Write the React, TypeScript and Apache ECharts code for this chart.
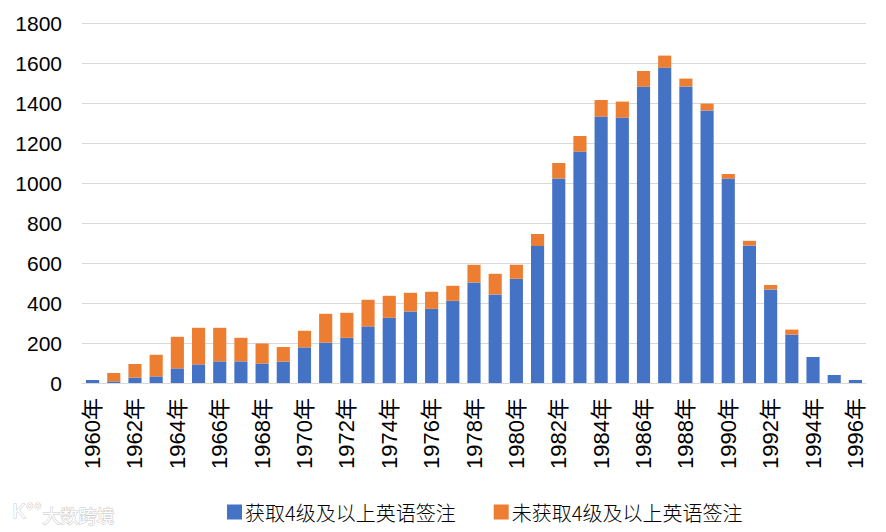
import React, { useEffect, useRef } from "react";
import * as echarts from "echarts";

const years: string[] = [];
for (let y = 1960; y <= 1996; y++) years.push(y + "年");

const seriesNames = ["获取4级及以上英语签注", "未获取4级及以上英语签注"];

const withEnglish = [
  15, 8, 27, 33, 73, 93, 108, 108, 98, 107,
  178, 202, 226, 283, 326, 358, 371, 411, 503, 443,
  521, 685, 1023, 1157, 1332, 1327, 1482, 1577, 1483, 1363,
  1022, 688, 468, 242, 130, 40, 15,
];

const withoutEnglish = [
  0, 42, 68, 108, 158, 183, 168, 118, 100, 73,
  83, 144, 125, 133, 110, 93, 85, 75, 88, 103,
  70, 60, 77, 78, 83, 80, 78, 60, 39, 34,
  23, 23, 22, 25, 0, 0, 0,
];

const yTicks = { min: 0, max: 1800, interval: 200 };

export default function App() {
  const ref = useRef<HTMLDivElement>(null);
  useEffect(() => {
    if (!ref.current) return;
    const chart = echarts.init(ref.current, null, { renderer: "svg" });
    const font = "Arial, 'Liberation Sans', 'Noto Sans CJK SC', sans-serif";
    chart.setOption({
      animation: false,
      backgroundColor: "#ffffff",
      textStyle: { fontFamily: font },
      grid: { left: 82, right: 20, top: 23, bottom: 149, containLabel: false },
      legend: {
        top: 497,
        left: 222,
        itemWidth: 15,
        itemHeight: 15,
        itemGap: 38,
        icon: "rect",
        textStyle: {
          fontSize: 20,
          color: "#000",
          fontFamily: "'Noto Sans CJK SC', sans-serif",
          fontWeight: 300,
          padding: [0, 0, 0, -2],
        },
        data: seriesNames,
      },
      xAxis: {
        type: "category",
        data: years,
        axisLine: { lineStyle: { color: "#d9d9d9", width: 1 } },
        axisTick: { show: false },
        axisLabel: {
          interval: 1,
          rotate: 90,
          fontSize: 22,
          color: "#000",
          margin: 15,
          fontFamily: font,
        },
      },
      yAxis: {
        type: "value",
        min: yTicks.min,
        max: yTicks.max,
        interval: yTicks.interval,
        axisLine: { show: false },
        axisTick: { show: false },
        splitLine: { lineStyle: { color: "#d9d9d9", width: 1 } },
        axisLabel: {
          fontSize: 21,
          color: "#000",
          margin: 20,
          formatter: (v: number) => String(v),
        },
      },
      series: [
        {
          name: seriesNames[0],
          type: "bar",
          stack: "total",
          data: withEnglish,
          barWidth: "62%",
          itemStyle: { color: "#4472C4" },
        },
        {
          name: seriesNames[1],
          type: "bar",
          stack: "total",
          data: withoutEnglish,
          barWidth: "62%",
          itemStyle: { color: "#ED7D31" },
        },
      ],
      graphic: [
        {
          type: "text",
          left: 42,
          top: 505,
          style: {
            text: "大数跨境",
            fontSize: 18,
            fill: "#ffffff",
            stroke: "#c8c8c8",
            lineWidth: 1,
            fontFamily: "'Noto Sans CJK SC', sans-serif",
          },
        },
        {
          type: "text",
          left: 12,
          top: 500,
          style: {
            text: "K°°",
            fontSize: 20,
            fill: "#ffffff",
            stroke: "#c8c8c8",
            lineWidth: 1,
            fontFamily: "Arial, sans-serif",
          },
        },
      ],
    });
    return () => chart.dispose();
  }, []);
  return (
    <div
      ref={ref}
      style={{ position: "fixed", left: 0, top: 0, width: 886, height: 532, background: "#fff" }}
    />
  );
}
